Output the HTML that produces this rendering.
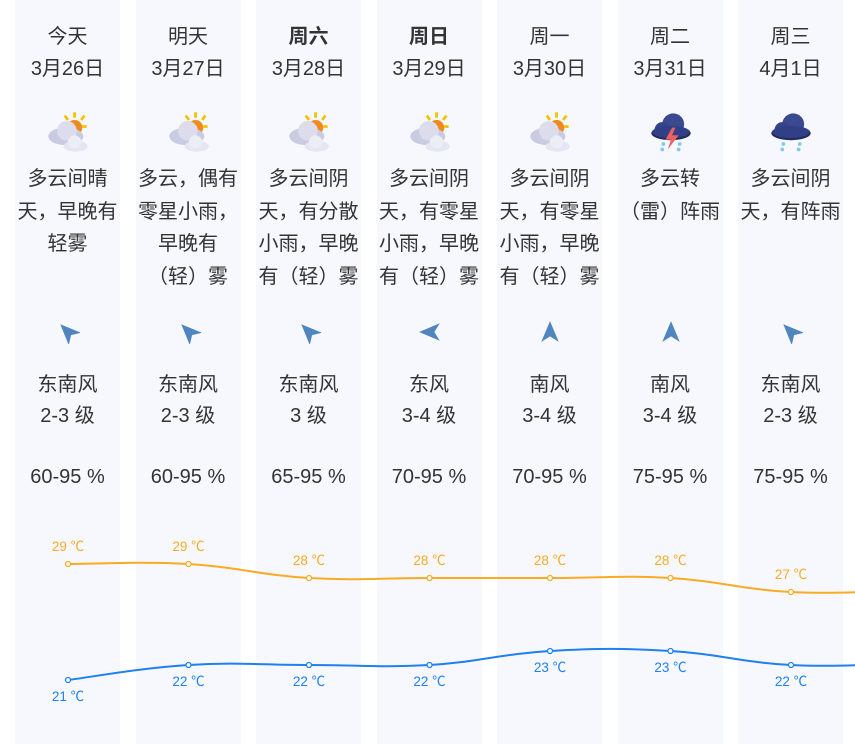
<!DOCTYPE html>
<html><head><meta charset="utf-8"><style>
body{margin:0;width:855px;height:744px;background:#fff;position:relative;overflow:hidden;font-family:"Liberation Sans","Noto Sans CJK SC",sans-serif;color:#333}
.col{position:absolute;top:0;width:105px;height:744px;background:#f6f8fe;text-align:center;font-size:20px}
.t{position:absolute;left:0;width:105px;text-align:center;line-height:32.5px}
.ic{position:absolute;left:30px;top:109px;width:46px;height:46px}
.ar{position:absolute;left:41px;top:320px;width:24px;height:24px}
svg.c{position:absolute;left:0;top:0}
</style></head><body>
<div id="cols"></div>
<svg class="c" width="855" height="744" id="chart"></svg>
<script>
var d=[
["今天","3月26日","",["多云间晴","天，早晚有","轻雾"],0,"东南风",-45,"2-3 级","60-95 %"],
["明天","3月27日","",["多云，偶有","零星小雨，","早晚有","（轻）雾"],0,"东南风",-45,"2-3 级","60-95 %"],
["周六","3月28日","",["多云间阴","天，有分散","小雨，早晚","有（轻）雾"],0,"东南风",-45,"3 级","65-95 %"],
["周日","3月29日","",["多云间阴","天，有零星","小雨，早晚","有（轻）雾"],0,"东风",-90,"3-4 级","70-95 %"],
["周一","3月30日","",["多云间阴","天，有零星","小雨，早晚","有（轻）雾"],0,"南风",0,"3-4 级","70-95 %"],
["周二","3月31日","",["多云转","（雷）阵雨"],2,"南风",0,"3-4 级","75-95 %"],
["周三","4月1日","",["多云间阴","天，有阵雨"],1,"东南风",-45,"2-3 级","75-95 %"]];
var sun='<svg class="ic" viewBox="0 0 42 42"><g stroke="#f2c200" stroke-width="2.5"><line x1="27" y1="3" x2="27" y2="8"/><line x1="18" y1="6" x2="21" y2="10"/><line x1="36" y1="6" x2="33" y2="10"/><line x1="38" y1="16" x2="34" y2="16"/></g><circle cx="27" cy="17" r="7" fill="#f08a1c"/><ellipse cx="19" cy="25" rx="16" ry="8" fill="#c9cbe0"/><circle cx="20" cy="20" r="9" fill="#dcdcec"/><ellipse cx="28" cy="34" rx="11" ry="5" fill="#e4e6f2"/><circle cx="27" cy="30" r="6" fill="#eceef6"/></svg>';
var rain=function(th){return '<svg class="ic" viewBox="0 0 42 42"><ellipse cx="21" cy="22" rx="18" ry="6.5" fill="#222a5a"/><circle cx="23" cy="14" r="10" fill="#3a4a90"/><circle cx="13" cy="19" r="7" fill="#34438a"/><ellipse cx="21" cy="21" rx="17" ry="5.5" fill="#303f86"/>'+(th?'<polygon points="22,17 16,28 21,28 18,37 28,24 22,24 25,17" fill="#f06060"/>':'')+'<g fill="#7fc8f0"><circle cx="14" cy="32" r="1.7"/><circle cx="13" cy="37" r="1.7"/><circle cx="29" cy="32" r="1.7"/><circle cx="28" cy="37" r="1.7"/></g></svg>';};
var h='';
for(var i=0;i<7;i++){var c=d[i],x=15+i*120.5;
h+='<div class="col" style="left:'+x+'px">';
h+='<div class="t" style="top:21px;'+(i==2||i==3?'font-weight:bold':'')+'">'+c[0]+'</div>';
h+='<div class="t" style="top:53px">'+c[1]+'</div>';
h+=c[4]==0?sun:rain(c[4]==2);
for(var j=0;j<c[3].length;j++)h+='<div class="t" style="top:'+(163+j*32.5)+'px;white-space:nowrap;left:-8px;width:121px">'+c[3][j]+'</div>';
h+='<svg class="ar" viewBox="-11 -11 22 22"><polygon transform="rotate('+c[6]+')" points="0,-10 8,9 0,4 -8,9" fill="#4f86c0"/></svg>';
h+='<div class="t" style="top:369px">'+c[5]+'</div>';
h+='<div class="t" style="top:400px">'+c[7]+'</div>';
h+='<div class="t" style="top:461px">'+c[8]+'</div>';
h+='</div>';}
document.getElementById('cols').innerHTML=h;
var xs=[68,188.5,309,429.5,550,670.5,791,911];
var hi=[564,564,578,578,578,578,592,590],lo=[680,665,665,665,651,651,665,663];
var ht=[29,29,28,28,28,28,27],lt=[21,22,22,22,23,23,22];
function path(ys){var p='M'+xs[0]+','+ys[0];for(var i=0;i<xs.length-1;i++){var x0=xs[Math.max(i-1,0)],y0=ys[Math.max(i-1,0)],x3=xs[Math.min(i+2,xs.length-1)],y3=ys[Math.min(i+2,xs.length-1)];var k=0.2;p+=' C'+(xs[i]+(xs[i+1]-x0)*k)+','+(ys[i]+(ys[i+1]-y0)*k)+' '+(xs[i+1]-(x3-xs[i])*k)+','+(ys[i+1]-(y3-ys[i])*k)+' '+xs[i+1]+','+ys[i+1];}return p;}
var s='<path d="'+path(hi)+'" fill="none" stroke="#f9ab25" stroke-width="2"/><path d="'+path(lo)+'" fill="none" stroke="#1f80f0" stroke-width="2"/>';
for(var i=0;i<7;i++){s+='<circle cx="'+xs[i]+'" cy="'+hi[i]+'" r="2.5" fill="#fff" stroke="#f9ab25" stroke-width="1.3"/><circle cx="'+xs[i]+'" cy="'+lo[i]+'" r="2.5" fill="#fff" stroke="#1f80f0" stroke-width="1.3"/>';
s+='<text x="'+xs[i]+'" y="'+(hi[i]-13)+'" text-anchor="middle" font-size="13.5" fill="#f9ab25">'+ht[i]+' ℃</text>';
s+='<text x="'+xs[i]+'" y="'+(lo[i]+21)+'" text-anchor="middle" font-size="13.5" fill="#1f80f0">'+lt[i]+' ℃</text>';}
document.getElementById('chart').innerHTML=s;
</script>
</body></html>
